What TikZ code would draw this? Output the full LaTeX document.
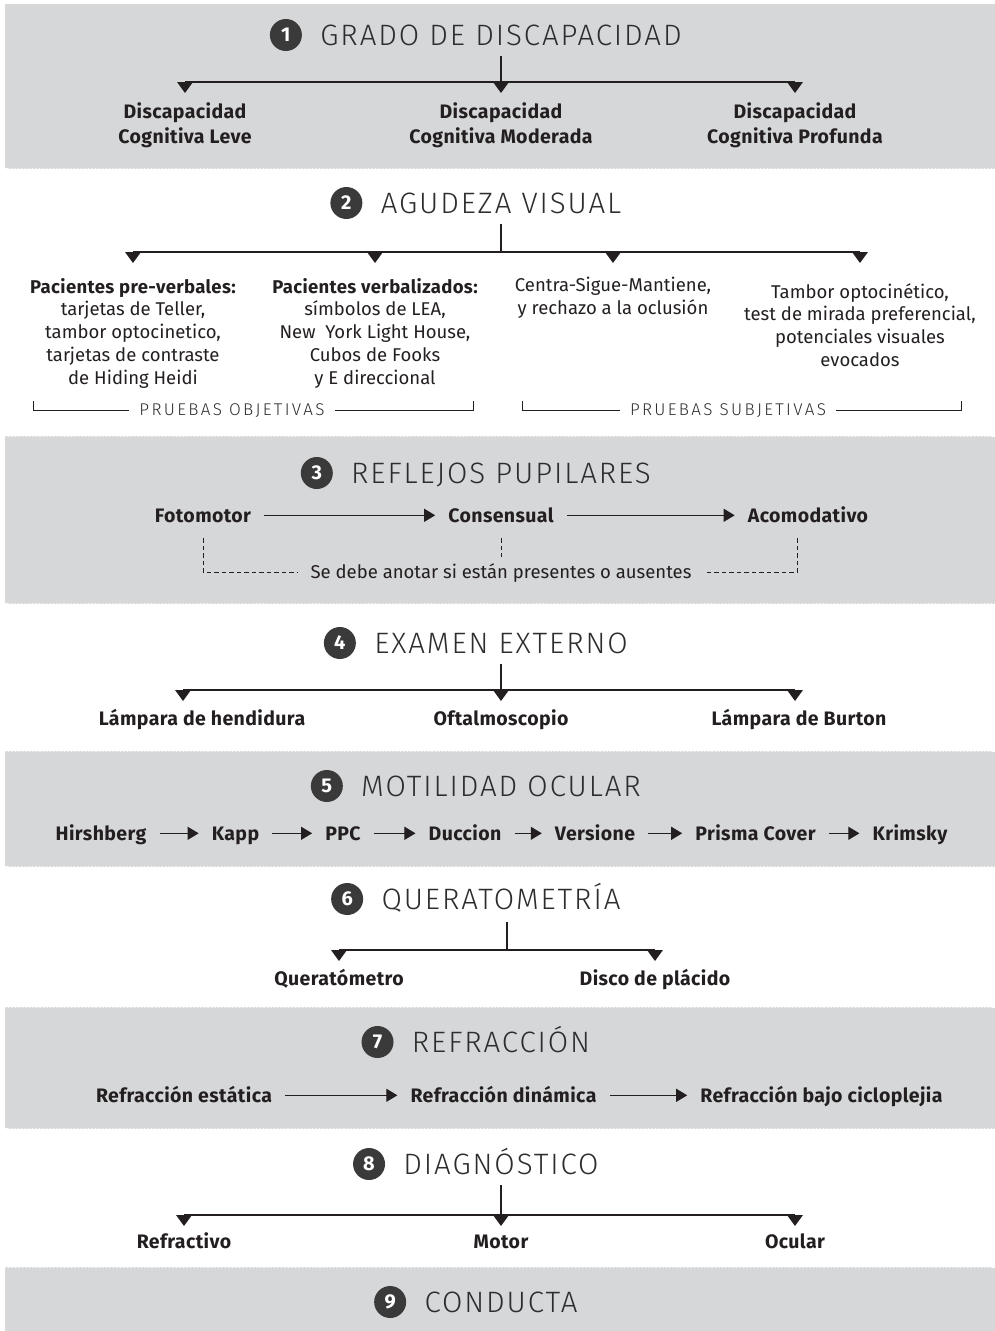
\documentclass[tikz,border=0pt]{standalone}
\usepackage{fontspec}
\setmainfont{Fira Sans}
\IfFontExistsTF{Fira Sans Light}
  {\newfontfamily\headfont{Fira Sans Light}[LetterSpace=6.5]
   \newfontfamily\capsfont{Fira Sans Light}[LetterSpace=14]}
  {\newfontfamily\headfont{Fira Sans}[LetterSpace=6.5]
   \newfontfamily\capsfont{Fira Sans}[LetterSpace=14]}
\newfontfamily\labfont{Fira Sans}[LetterSpace=2]
\usetikzlibrary{arrows.meta}
\usetikzlibrary{decorations.pathmorphing}
\usetikzlibrary{positioning}
\definecolor{bandgray}{RGB}{214,215,217}
\definecolor{ink}{RGB}{35,31,32}
\definecolor{headink}{RGB}{45,45,45}
\definecolor{badgefill}{RGB}{58,58,58}
\tikzset{band/.style = {fill=bandgray, decoration={bumps, segment length=7pt, amplitude=1.2pt}},
         badge/.style = {circle, fill=badgefill, text=white, inner sep=0pt, minimum size=32pt,
                         font=\bfseries\fontsize{20}{20}\selectfont},
         head/.style = {text=headink, inner sep=0pt, text height=20.3pt, text depth=0pt,
                        font=\headfont\fontsize{29.5}{30}\selectfont},
         lab/.style = {text=ink, inner sep=0pt, align=center, font=\labfont\bfseries\fontsize{19.5}{25.5}\selectfont},
         txt/.style = {text=ink, inner sep=0pt, align=center, font=\fontsize{18.5}{22.7}\selectfont},
         item/.style = {text=ink, anchor=base, inner xsep=13pt, inner ysep=0pt, text height=13.4pt,
                        text depth=0pt, font=\labfont\bfseries\fontsize{19.5}{23}\selectfont},
         caps/.style = {text=headink, inner xsep=10pt, inner ysep=0pt, text height=11.7pt, text depth=0pt,
                        font=\capsfont\fontsize{17}{18}\selectfont},
         notetxt/.style = {text=ink, inner xsep=12pt, inner ysep=0pt, text height=12.7pt, text depth=0pt,
                           font=\fontsize{18.5}{22}\selectfont},
         bus/.style = {draw=ink, line width=1.3pt},
         rule/.style = {draw=ink, line width=1pt},
         note/.style = {draw=ink, line width=0.8pt, dash pattern=on 4.5pt off 3pt},
         flow/.style = {draw=ink, line width=1pt, -{Triangle[length=11pt, width=13pt]}},
         tri/.pic = {\fill[ink] (-8pt,0pt) -- (8pt,0pt) -- (0pt,-11pt) -- cycle;}}

\begin{document}
\begin{tikzpicture}[x=1pt, y=-1pt]
    \useasboundingbox (0,0) rectangle (995,1331);

    % grey bands
    \fill[band] (5,4) -- (995,4) -- (995,168) decorate {-- (5,168)} -- cycle;
    \fill[band] (5,437) decorate {-- (995,437)} -- (995,603) decorate {-- (5,603)} -- cycle;
    \fill[band] (5,752) decorate {-- (995,752)} -- (995,866) decorate {-- (5,866)} -- cycle;
    \fill[band] (5,1008) decorate {-- (995,1008)} -- (995,1128) decorate {-- (5,1128)} -- cycle;
    \fill[band] (5,1268) decorate {-- (995,1268)} -- (995,1331) -- (5,1331) -- cycle;

    % 1 grado de discapacidad
    \node[head] (h1) at (501,35) {GRADO DE DISCAPACIDAD};
    \node[badge, left=18pt of h1] (n1) {1};
    \node[lab, anchor=north] (d1) at (185,102) {Discapacidad\\Cognitiva Leve};
    \node[lab, anchor=north] (d2) at (501,102) {Discapacidad\\Cognitiva Moderada};
    \node[lab, anchor=north] (d3) at (795,102) {Discapacidad\\Cognitiva Profunda};
    \coordinate (j1) at (501,82);
    \draw[bus] (h1.south) ++(0,11) -- (j1);
    \draw[bus] (d1.north |- j1) -- (d3.north |- j1);
    \pic at (d1.north |- j1) {tri};
    \pic at (j1) {tri};
    \pic at (d3.north |- j1) {tri};

    % 2 agudeza visual
    \node[head] (h2) at (501,203) {AGUDEZA VISUAL};
    \node[badge, left=18pt of h2] (n2) {2};
    \node[txt, anchor=north] (v1) at (133,278) {{\labfont\bfseries Pacientes pre-verbales:}\\tarjetas de Teller,\\tambor optocinetico,\\tarjetas de contraste\\de Hiding Heidi};
    \node[txt, anchor=north] (v2) at (375,278) {{\labfont\bfseries Pacientes verbalizados:}\\símbolos de LEA,\\New\ \ York Light House,\\Cubos de Fooks\\y E direccional};
    \node[txt, anchor=north] (v3) at (613,277) {Centra-Sigue-Mantiene,\\y rechazo a la oclusión};
    \node[txt, anchor=north] (v4) at (860,283) {Tambor optocinético,\\test de mirada preferencial,\\potenciales visuales\\evocados};
    \coordinate (j2) at (501,252);
    \draw[bus] (h2.south) ++(0,11) -- (j2);
    \draw[bus] (v1.north |- j2) -- (v4.north |- j2);
    \pic at (v1.north |- j2) {tri};
    \pic at (v2.north |- j2) {tri};
    \pic at (v3.north |- j2) {tri};
    \pic at (v4.north |- j2) {tri};

    \node[caps] (po) at (232,410) {PRUEBAS OBJETIVAS};
    \node[caps] (ps) at (728,410) {PRUEBAS SUBJETIVAS};
    \coordinate (o1) at (33,401);
    \coordinate (o2) at (473,401);
    \coordinate (s1) at (522,401);
    \coordinate (s2) at (961,401);
    \draw[rule] (o1) |- (po.west);
    \draw[rule] (o2) |- (po.east);
    \draw[rule] (s1) |- (ps.west);
    \draw[rule] (s2) |- (ps.east);

    % 3 reflejos pupilares
    \node[head] (h3) at (501,473) {REFLEJOS PUPILARES};
    \node[badge, left=18pt of h3] (n3) {3};
    \node[item] (r1) at (203,522) {Fotomotor};
    \node[item] (r2) at (501,522) {Consensual};
    \node[item] (r3) at (808,522) {Acomodativo};
    \draw[flow] (r1) -- (r2);
    \draw[flow] (r2) -- (r3);

    \node[notetxt] (sd) at (501,572) {Se debe anotar si están presentes o ausentes};
    \coordinate (k1) at (203,538);
    \coordinate (k2) at (501,538);
    \coordinate (k3) at (797,538);
    \coordinate (k4) at (501,557);
    \draw[note] (k1) |- (sd.west);
    \draw[note] (k3) |- (sd.east);
    \draw[note] (k2) -- (k4);

    % 4 examen externo
    \node[head] (h4) at (501,643) {EXAMEN EXTERNO};
    \node[badge, left=18pt of h4] (n4) {4};
    \node[item] (e1) at (202,725) {Lámpara de hendidura};
    \node[item] (e2) at (501,725) {Oftalmoscopio};
    \node[item] (e3) at (799,725) {Lámpara de Burton};
    \coordinate (j4) at (501,690);
    \coordinate (t41) at (183,690);
    \coordinate (t43) at (795,690);
    \draw[bus] (h4.south) ++(0,11) -- (j4);
    \draw[bus] (t41) -- (t43);
    \pic at (t41) {tri};
    \pic at (j4) {tri};
    \pic at (t43) {tri};

    % 5 motilidad ocular
    \node[head] (h5) at (501,786) {MOTILIDAD OCULAR};
    \node[badge, left=18pt of h5] (n5) {5};
    \node[item] (m1) at (101,840) {Hirshberg};
    \node[item] (m2) at (235.5,840) {Kapp};
    \node[item] (m3) at (343,840) {PPC};
    \node[item] (m4) at (465,840) {Duccion};
    \node[item] (m5) at (595,840) {Versione};
    \node[item] (m6) at (755.5,840) {Prisma Cover};
    \node[item] (m7) at (910,840) {Krimsky};
    \draw[flow] (m1) -- (m2);
    \draw[flow] (m2) -- (m3);
    \draw[flow] (m3) -- (m4);
    \draw[flow] (m4) -- (m5);
    \draw[flow] (m5) -- (m6);
    \draw[flow] (m6) -- (m7);

    % 6 queratometria
    \node[head] (h6) at (501,899) {QUERATOMETRÍA};
    \node[badge, left=18pt of h6] (n6) {6};
    \node[item] (q1) at (339,985) {Queratómetro};
    \node[item] (q2) at (655,985) {Disco de plácido};
    \coordinate (j6) at (507,950);
    \draw[bus] (j6 |- h6.south) ++(0,13) -- (j6);
    \draw[bus] (q1 |- j6) -- (q2 |- j6);
    \pic at (q1 |- j6) {tri};
    \pic at (q2 |- j6) {tri};

    % 7 refraccion
    \node[head] (h7) at (501,1042) {REFRACCIÓN};
    \node[badge, left=18pt of h7] (n7) {7};
    \node[item] (f1) at (184,1102) {Refracción estática};
    \node[item] (f2) at (503.5,1102) {Refracción dinámica};
    \node[item] (f3) at (821.5,1102) {Refracción bajo cicloplejia};
    \draw[flow] (f1) -- (f2);
    \draw[flow] (f2) -- (f3);

    % 8 diagnostico
    \node[head] (h8) at (501,1164) {DIAGNÓSTICO};
    \node[badge, left=18pt of h8] (n8) {8};
    \node[item] (g1) at (184,1248) {Refractivo};
    \node[item] (g2) at (501,1248) {Motor};
    \node[item] (g3) at (795,1248) {Ocular};
    \coordinate (j8) at (501,1215);
    \draw[bus] (h8.south) ++(0,11) -- (j8);
    \draw[bus] (g1 |- j8) -- (g3 |- j8);
    \pic at (g1 |- j8) {tri};
    \pic at (j8) {tri};
    \pic at (g3 |- j8) {tri};

    % 9 conducta
    \node[head] (h9) at (501,1302) {CONDUCTA};
    \node[badge, left=18pt of h9] (n9) {9};
\end{tikzpicture}
\end{document}
